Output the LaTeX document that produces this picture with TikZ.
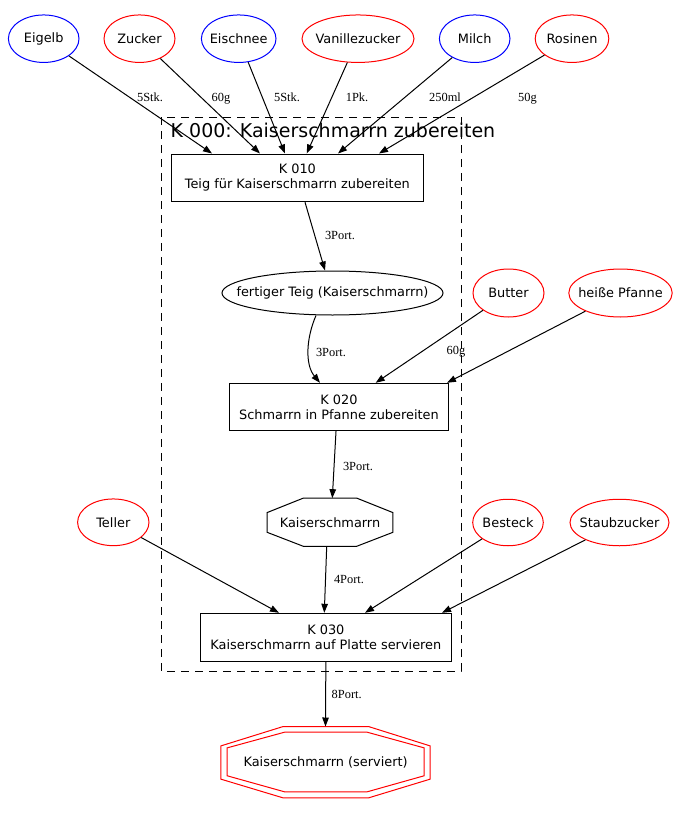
\documentclass[tikz,border=0pt]{standalone}
\usepackage{fontspec}
\setmainfont{DejaVu Sans}
\newfontfamily\lblserif{Liberation Serif}
\usetikzlibrary{arrows.meta,calc,shapes.geometric}
\newcommand\nfont{\fontsize{12.9}{15}\selectfont}
\newcommand\lfont{\lblserif\fontsize{12.4}{12.4}\selectfont}
\newcommand\etext[1]{\makebox[0pt][c]{#1}}
\newcommand\octdraw[6]{%
  \draw[#1] ($(#2.north west)!#3!(#2.north east)$) -- ($(#2.north west)!#4!(#2.north east)$)
    -- ($(#2.north east)!#5!(#2.south east)$) -- ($(#2.north east)!#6!(#2.south east)$)
    -- ($(#2.south west)!#4!(#2.south east)$) -- ($(#2.south west)!#3!(#2.south east)$)
    -- ($(#2.north west)!#6!(#2.south west)$) -- ($(#2.north west)!#5!(#2.south west)$) -- cycle;}
\tikzset{
  arr/.style={draw, line width=1pt, -{Triangle[length=9pt,width=6.5pt]}},
  ingb/.style={ellipse, draw=blue, line width=1pt, inner sep=0pt, minimum height=47.5pt, font=\nfont},
  ingr/.style={ingb, draw=red},
  proc/.style={rectangle, draw, line width=1pt, inner sep=0pt, align=center, font=\nfont},
  plain/.style={rectangle, inner sep=0pt, align=center, font=\nfont},
  lbl/.style={font=\lfont, inner sep=0pt, anchor=base},
}
\begin{document}
\begin{tikzpicture}[x=1pt,y=-1pt]
\fill[white] (0,0) rectangle (680,814);
\useasboundingbox (0,0) rectangle (680,814);

% cluster
\draw[line width=1pt, dash pattern=on 8pt off 6pt] (161,117) rectangle (461,671);
\node[anchor=base west, inner sep=0pt, font=\fontsize{19}{19}\selectfont] (title) at (170.5,137.7) {K 000: Kaiserschmarrn zubereiten};

% ingredients top
\node[ingb, minimum width=70.6pt] (eigelb) at (43.7,38.7) {\etext{Eigelb}};
\node[ingr, minimum width=71pt] (zucker) at (139.5,38.7) {\etext{Zucker}};
\node[ingb, minimum width=74.6pt] (eischnee) at (238.7,38.7) {\etext{Eischnee}};
\node[ingr, minimum width=112pt] (vanille) at (358,38.7) {\etext{Vanillezucker}};
\node[ingb, minimum width=70.6pt] (milch) at (474.7,38.7) {\etext{Milch}};
\node[ingr, minimum width=73.6pt] (rosinen) at (572,38.7) {\etext{Rosinen}};

% processes
\node[proc, minimum width=252.7pt, minimum height=47.7pt] (k010) at (297.35,177.85) {K 010\\Teig für Kaiserschmarrn zubereiten};
\node[ellipse, draw, line width=1pt, inner sep=0pt, minimum width=221pt, minimum height=44pt, font=\nfont] (teig) at (332.5,293) {\etext{fertiger Teig (Kaiserschmarrn)}};
\node[ingr, minimum width=71pt, minimum height=48pt] (butter) at (508.5,293) {\etext{Butter}};
\node[ingr, minimum width=103.4pt, minimum height=48pt] (pfanne) at (620.5,293) {\etext{heiße Pfanne}};
\node[proc, minimum width=219.4pt, minimum height=47.4pt] (k020) at (339,407) {K 020\\Schmarrn in Pfanne zubereiten};
\node[plain, minimum width=125.4pt, minimum height=47.7pt] (ks) at (330,522.2) {Kaiserschmarrn};
\octdraw{line width=1pt}{ks}{0.287}{0.713}{0.30}{0.71}
\node[ingr, minimum width=71.4pt, minimum height=46.7pt] (teller) at (113.3,522.3) {\etext{Teller}};
\node[ingr, minimum width=70.6pt, minimum height=46.5pt] (besteck) at (508,522.5) {\etext{Besteck}};
\node[ingr, minimum width=99pt, minimum height=46.5pt] (staub) at (619.5,522.5) {\etext{Staubzucker}};
\node[proc, minimum width=250.3pt, minimum height=48.4pt] (k030) at (325.85,637.5) {K 030\\Kaiserschmarrn auf Platte servieren};
\node[plain, minimum width=209pt, minimum height=71pt] (finout) at (325.5,762.2) {};
\node[plain, minimum width=196.7pt, minimum height=59.4pt] (fin) at (325.65,762) {Kaiserschmarrn (serviert)};
\octdraw{red, line width=1pt}{finout}{0.298}{0.705}{0.272}{0.737}
\octdraw{red, line width=1pt}{fin}{0.293}{0.709}{0.264}{0.73}

% edges top
\draw[arr] (eigelb) -- ([xshift=-85.35pt]k010.north);
\draw[arr] (zucker) -- ([xshift=-37.35pt]k010.north);
\draw[arr] (eischnee) -- ([xshift=-12.35pt]k010.north);
\draw[arr] (vanille) -- ([xshift=9.35pt]k010.north);
\draw[arr] (milch) -- ([xshift=40.65pt]k010.north);
\draw[arr] (rosinen) -- ([xshift=81.65pt]k010.north);
\node[lbl] (l1) at (150,101.7) {5Stk.};
\node[lbl] (l2) at (221,101.7) {60g};
\node[lbl] (l3) at (287,101.7) {5Stk.};
\node[lbl] (l4) at (357,101.7) {1Pk.};
\node[lbl] (l5) at (445,101.7) {250ml};
\node[lbl] (l6) at (527.5,101.7) {50g};

\draw[arr] ([xshift=7.65pt]k010.south) -- ([xshift=-7.5pt]teig.north);
\node[lbl] (l7) at (340,239) {3Port.};
\draw[arr] ([xshift=-16.5pt]teig.south) .. controls ([xshift=-26.5pt,yshift=-23pt]teig.south) and ([xshift=-34pt,yshift=18pt]k020.north) .. ([xshift=-19pt]k020.north);
\node[lbl] (l8) at (331,356) {3Port.};
\draw[arr] (butter) -- ([xshift=36.7pt]k020.north);
\node[lbl] (l9) at (456,354) {60g};
\draw[arr] (pfanne) -- ([xshift=108pt]k020.north);
\draw[arr] ([xshift=-3pt]k020.south) -- ([xshift=2.3pt]ks.north);
\node[lbl] (l10) at (358,470) {3Port.};
\draw[arr] ([xshift=-3.3pt]ks.south) -- ([xshift=-1.55pt]k030.north);
\node[lbl] (l11) at (349,583) {4Port.};
\draw[arr] (teller) -- ([xshift=-46.85pt]k030.north);
\draw[arr] (besteck) -- ([xshift=39.15pt]k030.north);
\draw[arr] (staub) -- ([xshift=116.15pt]k030.north);
\draw[arr] (k030.south) -- (finout.north);
\node[lbl] (l12) at (346.7,698.3) {8Port.};
\end{tikzpicture}
\end{document}
